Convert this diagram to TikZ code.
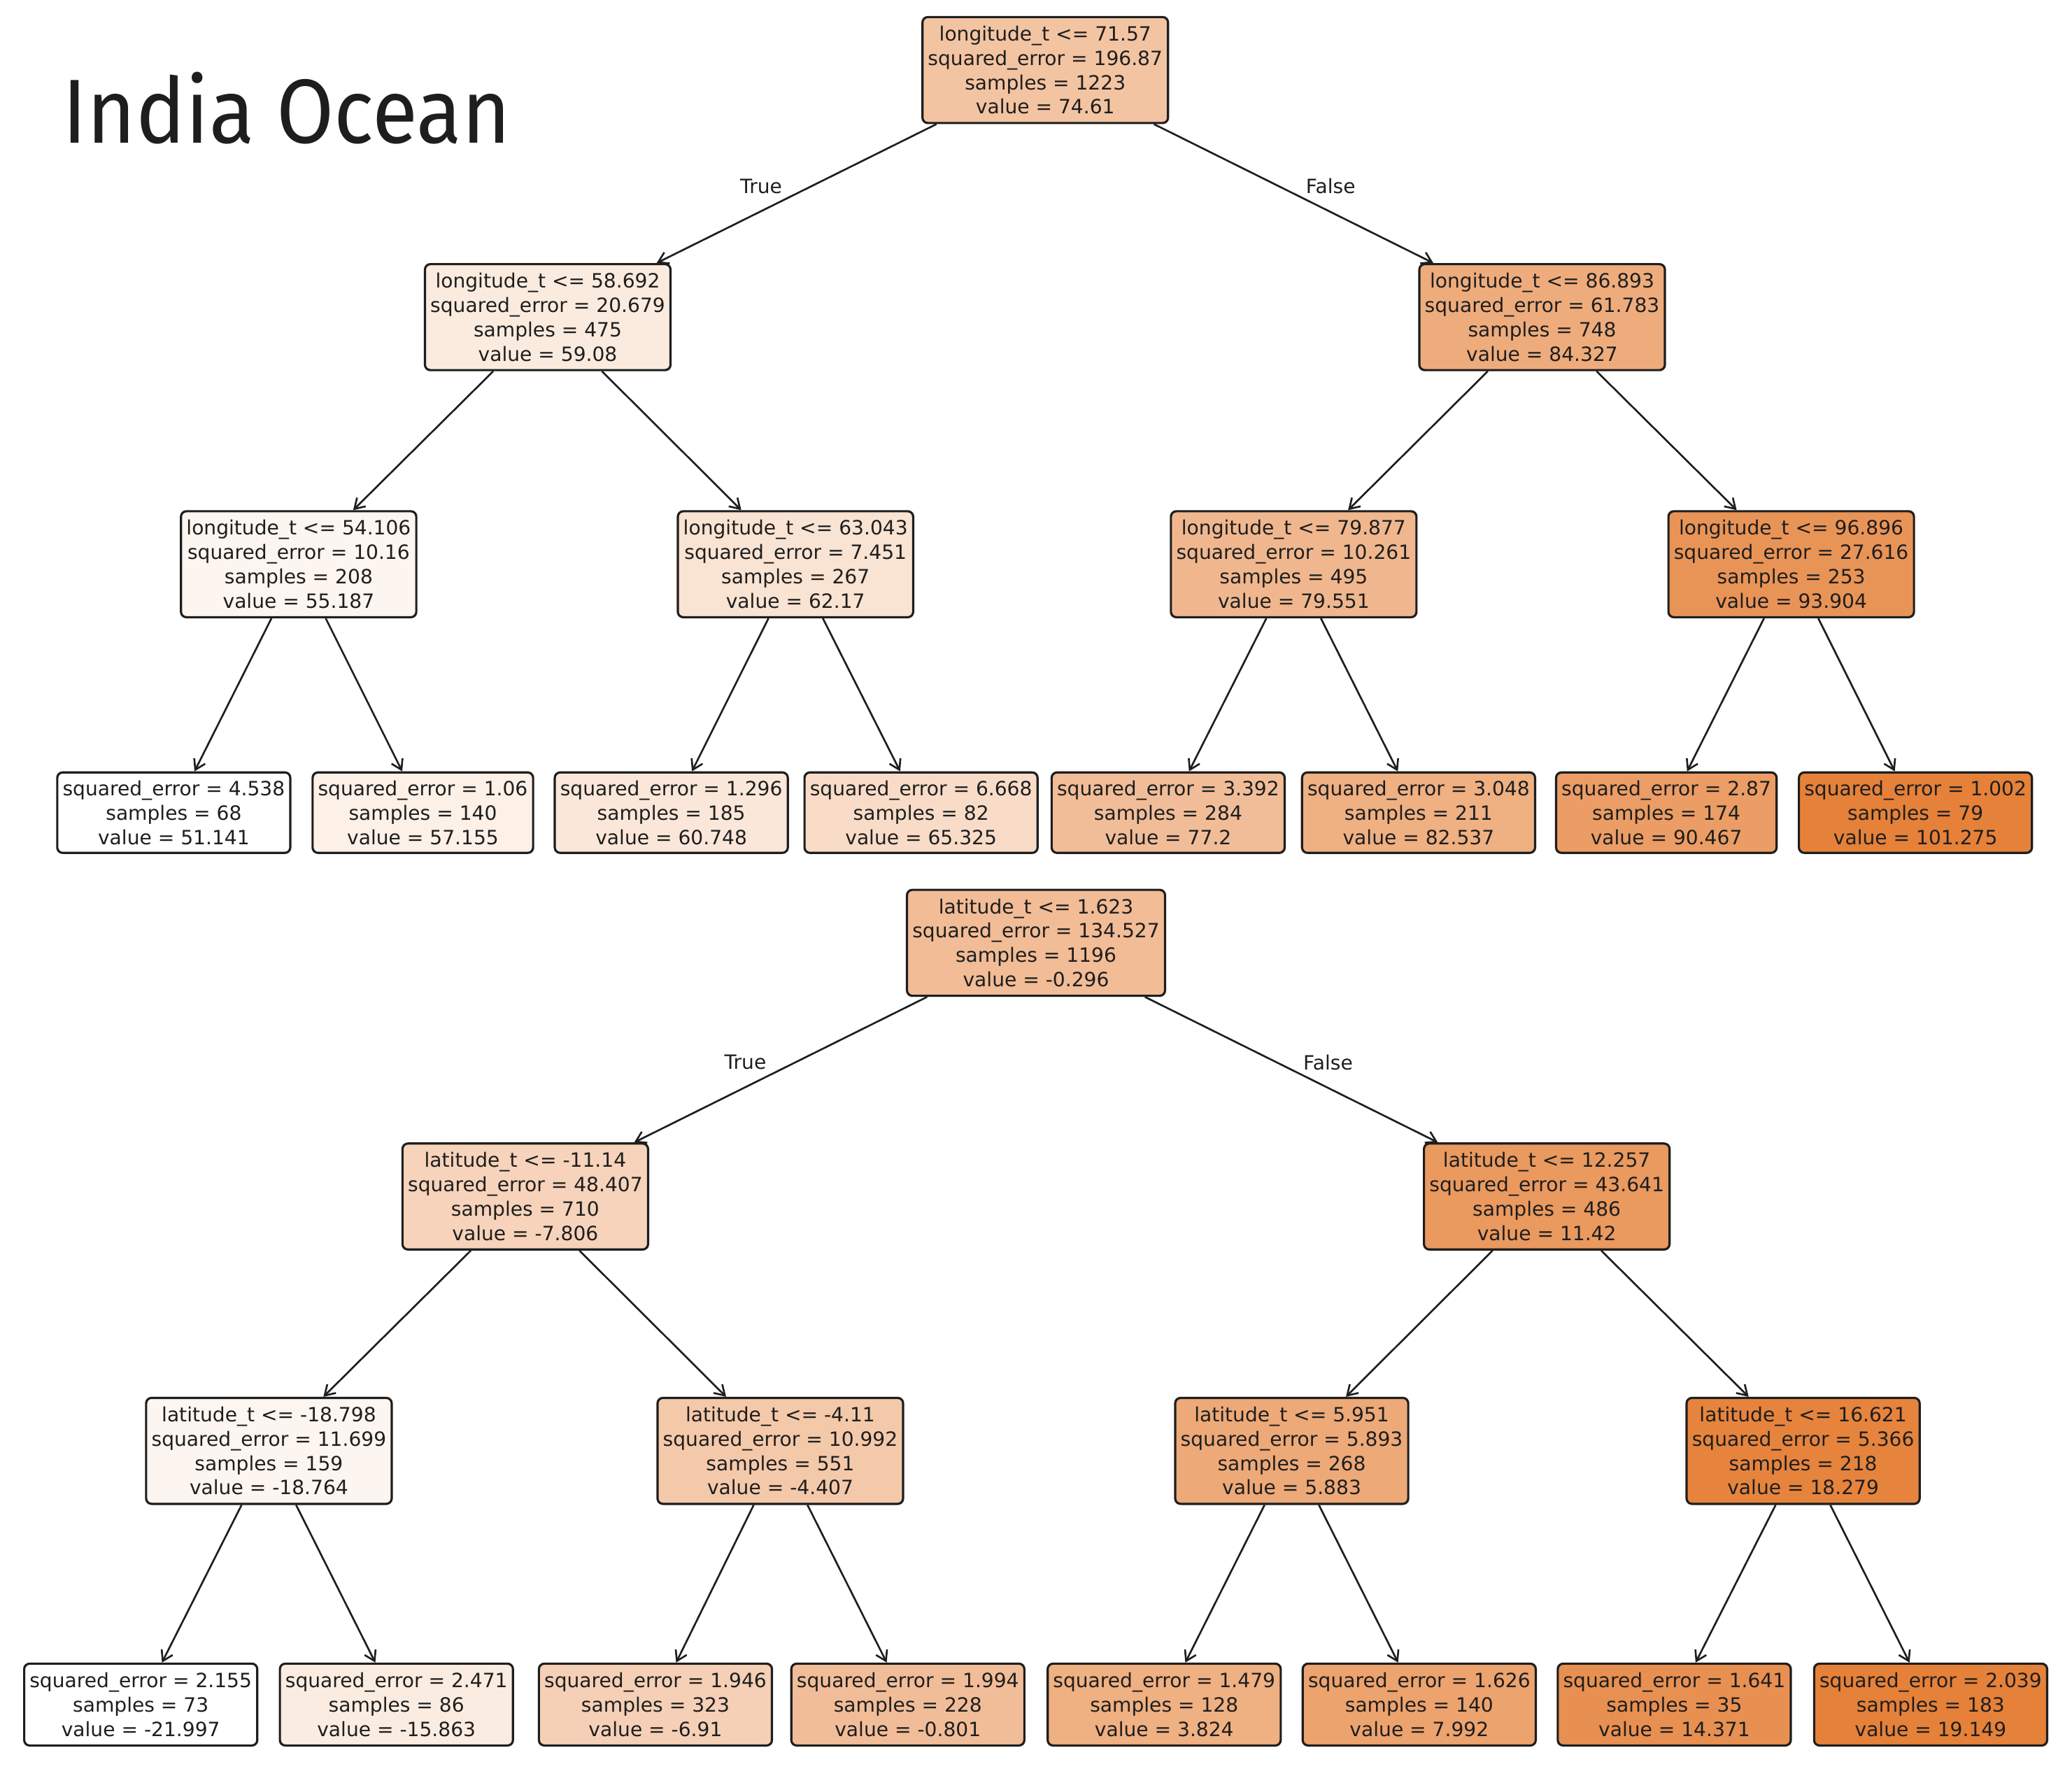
\documentclass[tikz,border=0pt]{standalone}
\usepackage{fontspec}
\setmainfont{DejaVu Sans}
\newfontfamily\titlefont{Fira Sans}
\usetikzlibrary{arrows.meta}
\definecolor{sk}{RGB}{229,129,57}
\definecolor{ink}{RGB}{30,30,30}
\begin{document}
\begin{tikzpicture}[x=0.01889cm,y=-0.01889cm,
  nd/.style={draw=ink, line width=0.9pt, rounded corners=2.2pt, align=center,
    font=\fontsize{8}{9.9}\selectfont, text=ink, inner xsep=2.2pt, inner ysep=1pt,
    minimum height=1.515cm},
  lf/.style={nd, minimum height=1.15cm},
  edge/.style={draw=ink, line width=0.75pt, -{Straight Barb[length=4pt,width=5pt]}},
  lbl/.style={font=\fontsize{8}{9.9}\selectfont, text=ink}]
\useasboundingbox (0,0) rectangle (1568,1349);
\fill[white] (0,0) rectangle (1568,1349);
\node[anchor=base west, font=\titlefont\fontsize{37}{40}\selectfont, text=ink, inner sep=0pt] (title) at (47,108) {\scalebox{0.915}[1]{India Ocean}};

% ---------- Tree 1 ----------
\node[nd, fill=sk!47] (a0) at (791,53) {longitude\_t <= 71.57\\squared\_error = 196.87\\samples = 1223\\value = 74.61};
\node[nd, fill=sk!16] (a1) at (414.5,240) {longitude\_t <= 58.692\\squared\_error = 20.679\\samples = 475\\value = 59.08};
\node[nd, fill=sk!66] (a2) at (1167,240) {longitude\_t <= 86.893\\squared\_error = 61.783\\samples = 748\\value = 84.327};
\node[nd, fill=sk!8] (a3) at (226,427) {longitude\_t <= 54.106\\squared\_error = 10.16\\samples = 208\\value = 55.187};
\node[nd, fill=sk!22] (a4) at (602,427) {longitude\_t <= 63.043\\squared\_error = 7.451\\samples = 267\\value = 62.17};
\node[nd, fill=sk!57] (a5) at (979,427) {longitude\_t <= 79.877\\squared\_error = 10.261\\samples = 495\\value = 79.551};
\node[nd, fill=sk!85] (a6) at (1355.5,427) {longitude\_t <= 96.896\\squared\_error = 27.616\\samples = 253\\value = 93.904};
\node[lf, fill=white] (a7) at (131.5,615) {squared\_error = 4.538\\samples = 68\\value = 51.141};
\node[lf, fill=sk!12] (a8) at (320,615) {squared\_error = 1.06\\samples = 140\\value = 57.155};
\node[lf, fill=sk!19] (a9) at (508,615) {squared\_error = 1.296\\samples = 185\\value = 60.748};
\node[lf, fill=sk!28] (a10) at (697,615) {squared\_error = 6.668\\samples = 82\\value = 65.325};
\node[lf, fill=sk!52] (a11) at (884,615) {squared\_error = 3.392\\samples = 284\\value = 77.2};
\node[lf, fill=sk!63] (a12) at (1073.5,615) {squared\_error = 3.048\\samples = 211\\value = 82.537};
\node[lf, fill=sk!78] (a13) at (1261,615) {squared\_error = 2.87\\samples = 174\\value = 90.467};
\node[lf, fill=sk] (a14) at (1449.5,615) {squared\_error = 1.002\\samples = 79\\value = 101.275};
\draw[edge] (a0) -- (a1);
\draw[edge] (a0) -- (a2);
\draw[edge] (a1) -- (a3);
\draw[edge] (a1) -- (a4);
\draw[edge] (a2) -- (a5);
\draw[edge] (a2) -- (a6);
\draw[edge] (a3) -- (a7);
\draw[edge] (a3) -- (a8);
\draw[edge] (a4) -- (a9);
\draw[edge] (a4) -- (a10);
\draw[edge] (a5) -- (a11);
\draw[edge] (a5) -- (a12);
\draw[edge] (a6) -- (a13);
\draw[edge] (a6) -- (a14);
\node[lbl] (at) at (576,141) {True};
\node[lbl] (af) at (1007,141) {False};

% ---------- Tree 2 ----------
\node[nd, fill=sk!53] (b0) at (784,713.5) {latitude\_t <= 1.623\\squared\_error = 134.527\\samples = 1196\\value = -0.296};
\node[nd, fill=sk!35] (b1) at (397.5,905.5) {latitude\_t <= -11.14\\squared\_error = 48.407\\samples = 710\\value = -7.806};
\node[nd, fill=sk!81] (b2) at (1170.5,905.5) {latitude\_t <= 12.257\\squared\_error = 43.641\\samples = 486\\value = 11.42};
\node[nd, fill=sk!8] (b3) at (203.5,1098) {latitude\_t <= -18.798\\squared\_error = 11.699\\samples = 159\\value = -18.764};
\node[nd, fill=sk!43] (b4) at (590.5,1098) {latitude\_t <= -4.11\\squared\_error = 10.992\\samples = 551\\value = -4.407};
\node[nd, fill=sk!68] (b5) at (977.5,1098) {latitude\_t <= 5.951\\squared\_error = 5.893\\samples = 268\\value = 5.883};
\node[nd, fill=sk!98] (b6) at (1364.5,1098) {latitude\_t <= 16.621\\squared\_error = 5.366\\samples = 218\\value = 18.279};
\node[lf, fill=white, minimum height=1.17cm] (b7) at (106.5,1290) {squared\_error = 2.155\\samples = 73\\value = -21.997};
\node[lf, fill=sk!15, minimum height=1.17cm] (b8) at (300,1290) {squared\_error = 2.471\\samples = 86\\value = -15.863};
\node[lf, fill=sk!37, minimum height=1.17cm] (b9) at (496,1290) {squared\_error = 1.946\\samples = 323\\value = -6.91};
\node[lf, fill=sk!52, minimum height=1.17cm] (b10) at (687,1290) {squared\_error = 1.994\\samples = 228\\value = -0.801};
\node[lf, fill=sk!63, minimum height=1.17cm] (b11) at (881,1290) {squared\_error = 1.479\\samples = 128\\value = 3.824};
\node[lf, fill=sk!73, minimum height=1.17cm] (b12) at (1074,1290) {squared\_error = 1.626\\samples = 140\\value = 7.992};
\node[lf, fill=sk!88, minimum height=1.17cm] (b13) at (1267,1290) {squared\_error = 1.641\\samples = 35\\value = 14.371};
\node[lf, fill=sk, minimum height=1.17cm] (b14) at (1461,1290) {squared\_error = 2.039\\samples = 183\\value = 19.149};
\draw[edge] (b0) -- (b1);
\draw[edge] (b0) -- (b2);
\draw[edge] (b1) -- (b3);
\draw[edge] (b1) -- (b4);
\draw[edge] (b2) -- (b5);
\draw[edge] (b2) -- (b6);
\draw[edge] (b3) -- (b7);
\draw[edge] (b3) -- (b8);
\draw[edge] (b4) -- (b9);
\draw[edge] (b4) -- (b10);
\draw[edge] (b5) -- (b11);
\draw[edge] (b5) -- (b12);
\draw[edge] (b6) -- (b13);
\draw[edge] (b6) -- (b14);
\node[lbl] (bt) at (564,804) {True};
\node[lbl] (bf) at (1005,804) {False};
\end{tikzpicture}
\end{document}
